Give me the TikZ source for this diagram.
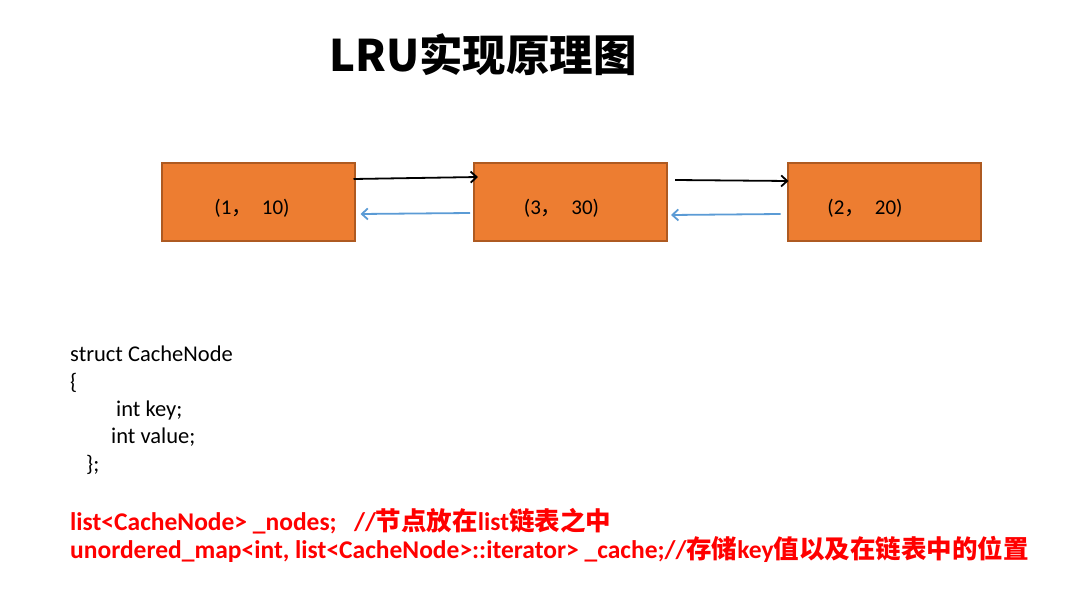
\documentclass[tikz,border=0pt]{standalone}
\usepackage{fontspec}
\usepackage{xcolor}
\setmainfont{Carlito}
\newfontfamily\cjk{Noto Sans CJK SC}
\usetikzlibrary{arrows.meta,positioning}
\definecolor{boxfill}{HTML}{ED7D31}
\definecolor{boxline}{HTML}{AE5A21}
\definecolor{backblue}{HTML}{5B9BD5}
\definecolor{codered}{HTML}{FF0000}
\tikzset{
  cachebox/.style={draw=boxline, fill=boxfill, line width=2pt, minimum width=193pt, minimum height=77pt, inner sep=0pt},
  valtext/.style={font=\fontsize{21}{24}\selectfont, inner sep=0pt},
  codeline/.style={anchor=base west, inner sep=0pt, font=\fontsize{22.5}{26}\selectfont},
  redline/.style={anchor=base west, inner sep=0pt, text=codered, font=\bfseries\fontsize{25.5}{28}\selectfont},
  nextarrow/.style={line width=1.8pt, -{Straight Barb[length=6pt,width=11pt]}},
  prevarrow/.style={draw=backblue, line width=1.8pt, -{Straight Barb[length=6pt,width=11pt]}},
}

\begin{document}
\begin{tikzpicture}[x=1pt,y=-1pt]%
\useasboundingbox (0,0) rectangle (1084,596);%
% title
\node[anchor=west, inner sep=0pt, font=\cjk\bfseries\fontsize{43.5}{48}\selectfont] (title) at (329,55) {LRU实现原理图};%
% list nodes
\node[cachebox] (n1) at (258,202) {};%
\node[cachebox] (n2) at (570.5,202) {};%
\node[cachebox] (n3) at (884,202) {};%
\node[valtext] (v1) at ([xshift=-6pt,yshift=-6pt]n1.center) {(1{\cjk ，}\ \ 10)};%
\node[valtext] (v2) at ([xshift=-9pt,yshift=-6pt]n2.center) {(3{\cjk ，}\ \ 30)};%
\node[valtext] (v3) at ([xshift=-19pt,yshift=-6pt]n3.center) {(2{\cjk ，}\ \ 20)};%
% links
\draw[nextarrow] ([xshift=-2pt,yshift=23pt]n1.east) -- ([xshift=5pt,yshift=25pt]n2.west);%
\draw[nextarrow] ([xshift=7pt,yshift=22pt]n2.east) -- ([xshift=2pt,yshift=21pt]n3.west);%
\draw[prevarrow] ([xshift=-3pt,yshift=-11pt]n2.west) -- ([xshift=5pt,yshift=-12pt]n1.east);%
\draw[prevarrow] ([xshift=-6pt,yshift=-12pt]n3.west) -- ([xshift=3pt,yshift=-13pt]n2.east);%
% code
\node[codeline] (c1) at (70,361) {struct CacheNode};%
\node[codeline] (c2) at (70,389) {\{};%
\node[codeline] (c3) at (116,416) {int key;};%
\node[codeline] (c4) at (111,443) {int value;};%
\node[codeline] (c5) at (86,471) {\};};%
\node[redline] (r1) at (70,530) {list<CacheNode> \_nodes;\ \ \ //{\cjk 节点放在}list{\cjk 链表之中}};%
\node[redline] (r2) at (70,558) {unordered\_map<int, list<CacheNode>::iterator> \_cache;//{\cjk 存储}key{\cjk 值以及在链表中的位置}};%
\end{tikzpicture}
\end{document}
